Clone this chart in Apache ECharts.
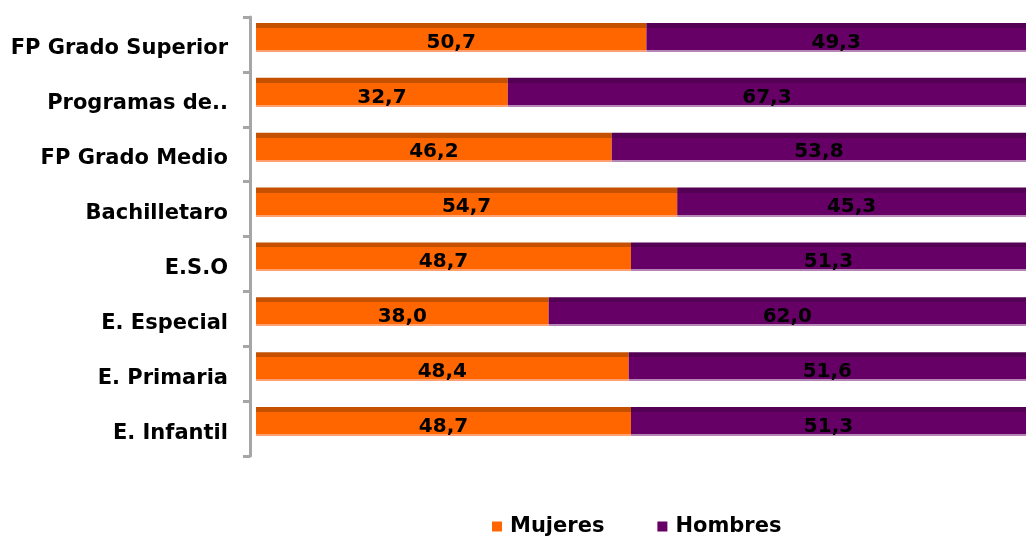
<!DOCTYPE html>
<html>
<head>
<meta charset="utf-8">
<script src="https://cdn.jsdelivr.net/npm/echarts@6/dist/echarts.min.js"></script>
<style>
  html, body { margin: 0; padding: 0; background: #fff; }
  #chart { width: 1026px; height: 538px; }
</style>
</head>
<body>
<div id="chart"></div>
<script>
// categories top to bottom
const categories = [
  "FP Grado Superior",
  "Programas de..",
  "FP Grado Medio",
  "Bachilletaro",
  "E.S.O",
  "E. Especial",
  "E. Primaria",
  "E. Infantil",
];
const mujeres = [50.7, 32.7, 46.2, 54.7, 48.7, 38.0, 48.4, 48.7];
const hombres = [49.3, 67.3, 53.8, 45.3, 51.3, 62.0, 51.6, 51.3];

const FONT = "DejaVu Sans";

// fake 3d look: dark top face, main face, light bottom edge, transparent rest
function face(top, main, bottom) {
  return {
    type: "linear",
    x: 0, y: 0, x2: 0, y2: 1,
    colorStops: [
      { offset: 0, color: top },
      { offset: 0.116, color: top },
      { offset: 0.117, color: main },
      { offset: 0.628, color: main },
      { offset: 0.629, color: bottom },
      { offset: 0.674, color: bottom },
      { offset: 0.675, color: "rgba(255,255,255,0)" },
      { offset: 1, color: "rgba(255,255,255,0)" },
    ],
  };
}

const fmt = (p) => p.value.toFixed(1).replace(".", ",");

const labelStyle = {
  show: true,
  position: "inside",
  formatter: fmt,
  color: "#000",
  fontFamily: FONT,
  fontWeight: "bold",
  fontSize: 20,
  offset: [0, -2],
};

const boldText = { color: "#000", fontFamily: FONT, fontWeight: "bold", fontSize: 21 };

const chart = echarts.init(document.getElementById("chart"));
chart.setOption({
  animation: false,
  grid: [
    { left: 256, top: 17, width: 775, height: 439 },
    // separate grid only for the category axis line, a few px left of the bars
    { left: 250, top: 17, width: 775, height: 439 },
  ],
  xAxis: [
    { type: "value", gridIndex: 0, min: 0, max: 100, show: false },
    { type: "value", gridIndex: 1, min: 0, max: 100, show: false },
  ],
  yAxis: [
    { type: "category", gridIndex: 0, inverse: true, data: categories, show: false },
    {
      type: "category",
      gridIndex: 1,
      inverse: true,
      data: categories,
      axisLine: { show: true, lineStyle: { color: "#a6a6a6", width: 3 } },
      axisTick: { show: true, length: 7, lineStyle: { color: "#a6a6a6", width: 3 } },
      axisLabel: {
        margin: 22,
        formatter: "{t|{value}}",
        rich: { t: Object.assign({ padding: [9, 0, 0, 0] }, boldText) },
      },
    },
  ],
  legend: {
    left: 492,
    top: 516,
    padding: 0,
    itemWidth: 10,
    itemHeight: 10,
    itemGap: 53,
    icon: "rect",
    formatter: "{t|{name}}",
    textStyle: Object.assign({ rich: { t: Object.assign({ padding: [0, 0, 0, 3] }, boldText) } }, boldText),
    data: [
      { name: "Mujeres", itemStyle: { color: "#ff6600" } },
      { name: "Hombres", itemStyle: { color: "#660066" } },
    ],
  },
  series: [
    {
      name: "Mujeres",
      type: "bar",
      stack: "total",
      barWidth: 43,
      data: mujeres,
      itemStyle: { color: face("#c45000", "#ff6600", "#ffa070") },
      label: labelStyle,
    },
    {
      name: "Hombres",
      type: "bar",
      stack: "total",
      barWidth: 43,
      data: hombres,
      itemStyle: { color: face("#540054", "#660066", "#b585b5") },
      label: labelStyle,
    },
  ],
});
</script>
</body>
</html>
